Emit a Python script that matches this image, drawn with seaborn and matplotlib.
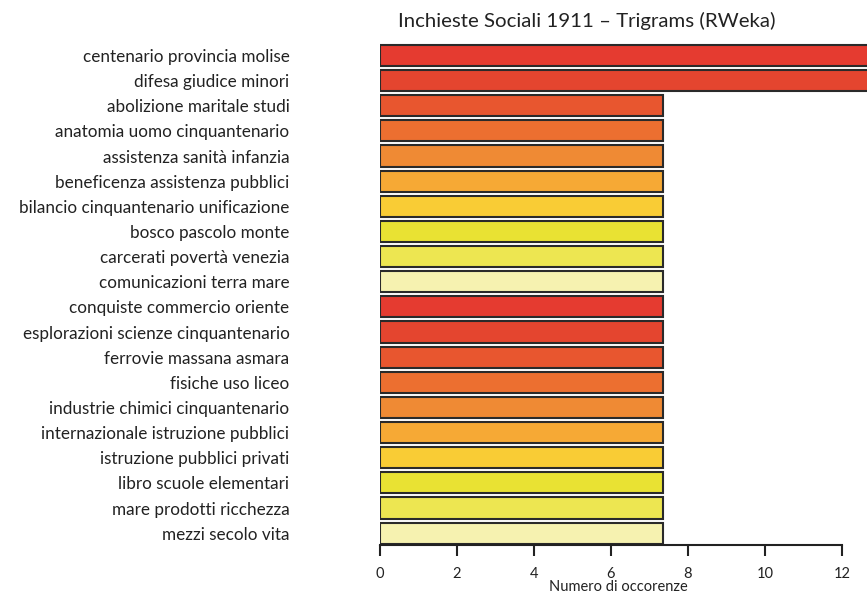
import matplotlib
matplotlib.use("Agg")
import matplotlib.pyplot as plt
import seaborn as sns
import pandas as pd

# Data
trigrams = ["centenario provincia molise", "difesa giudice minori", "abolizione maritale studi",
            "anatomia uomo cinquantenario", "assistenza sanità infanzia", "beneficenza assistenza pubblici",
            "bilancio cinquantenario unificazione", "bosco pascolo monte", "carcerati povertà venezia",
            "comunicazioni terra mare", "conquiste commercio oriente", "esplorazioni scienze cinquantenario",
            "ferrovie massana asmara", "fisiche uso liceo", "industrie chimici cinquantenario",
            "internazionale istruzione pubblici", "istruzione pubblici privati", "libro scuole elementari",
            "mare prodotti ricchezza", "mezzi secolo vita"]
counts = [13, 13, 7.35, 7.35, 7.35, 7.35, 7.35, 7.35, 7.35, 7.35,
          7.35, 7.35, 7.35, 7.35, 7.35, 7.35, 7.35, 7.35, 7.35, 7.35]
heat = ["#E53B30", "#E4452F", "#E8562F", "#EC6F30", "#EF8A34",
        "#F6A935", "#F9CC35", "#E9E233", "#EDE651", "#F6F2B0"]
xticks = [0, 2, 4, 6, 8, 10, 12]

df = pd.DataFrame({"trigram": trigrams, "count": counts})
palette = dict(zip(trigrams, heat * 2))

sns.set_style("white")
plt.rcParams["font.family"] = ["Lato", "DejaVu Sans"]

fig = plt.figure(figsize=(8.67, 5.96), dpi=100)
ax = fig.add_axes([0.438, 0.086, 0.562, 0.842])

sns.barplot(data=df, x="count", y="trigram", hue="trigram", palette=palette,
            legend=False, width=0.84, edgecolor="#2a2a2a", linewidth=1.5,
            saturation=1, ax=ax)

ax.set_xlim(0, 12.65)
ax.set_ylim(19.46, -0.5)
ax.set_xticks(xticks)
ax.set_xticklabels([str(t) for t in xticks], fontsize=10.5, color="#222222")
ax.tick_params(axis="x", direction="out", length=8, width=1.5, pad=8, color="#222222", bottom=True)
ax.tick_params(axis="y", length=0, pad=65, labelsize=12.3, labelcolor="#222222")

# Spines
for spine in ["top", "right", "left"]:
    ax.spines[spine].set_visible(False)
ax.spines["bottom"].set_bounds(0, 12)
ax.spines["bottom"].set_linewidth(1.5)
ax.spines["bottom"].set_color("#222222")

ax.set_ylabel("")
ax.set_xlabel("Numero di occorenze", fontsize=10.5, color="#222222")
ax.xaxis.set_label_coords(0.489, -0.07)

fig.text(0.677, 0.965, "Inchieste Sociali 1911 – Trigrams (RWeka)", ha="center", va="center",
         fontsize=14.7, color="#222222")

fig.savefig("out.png", dpi=100)
